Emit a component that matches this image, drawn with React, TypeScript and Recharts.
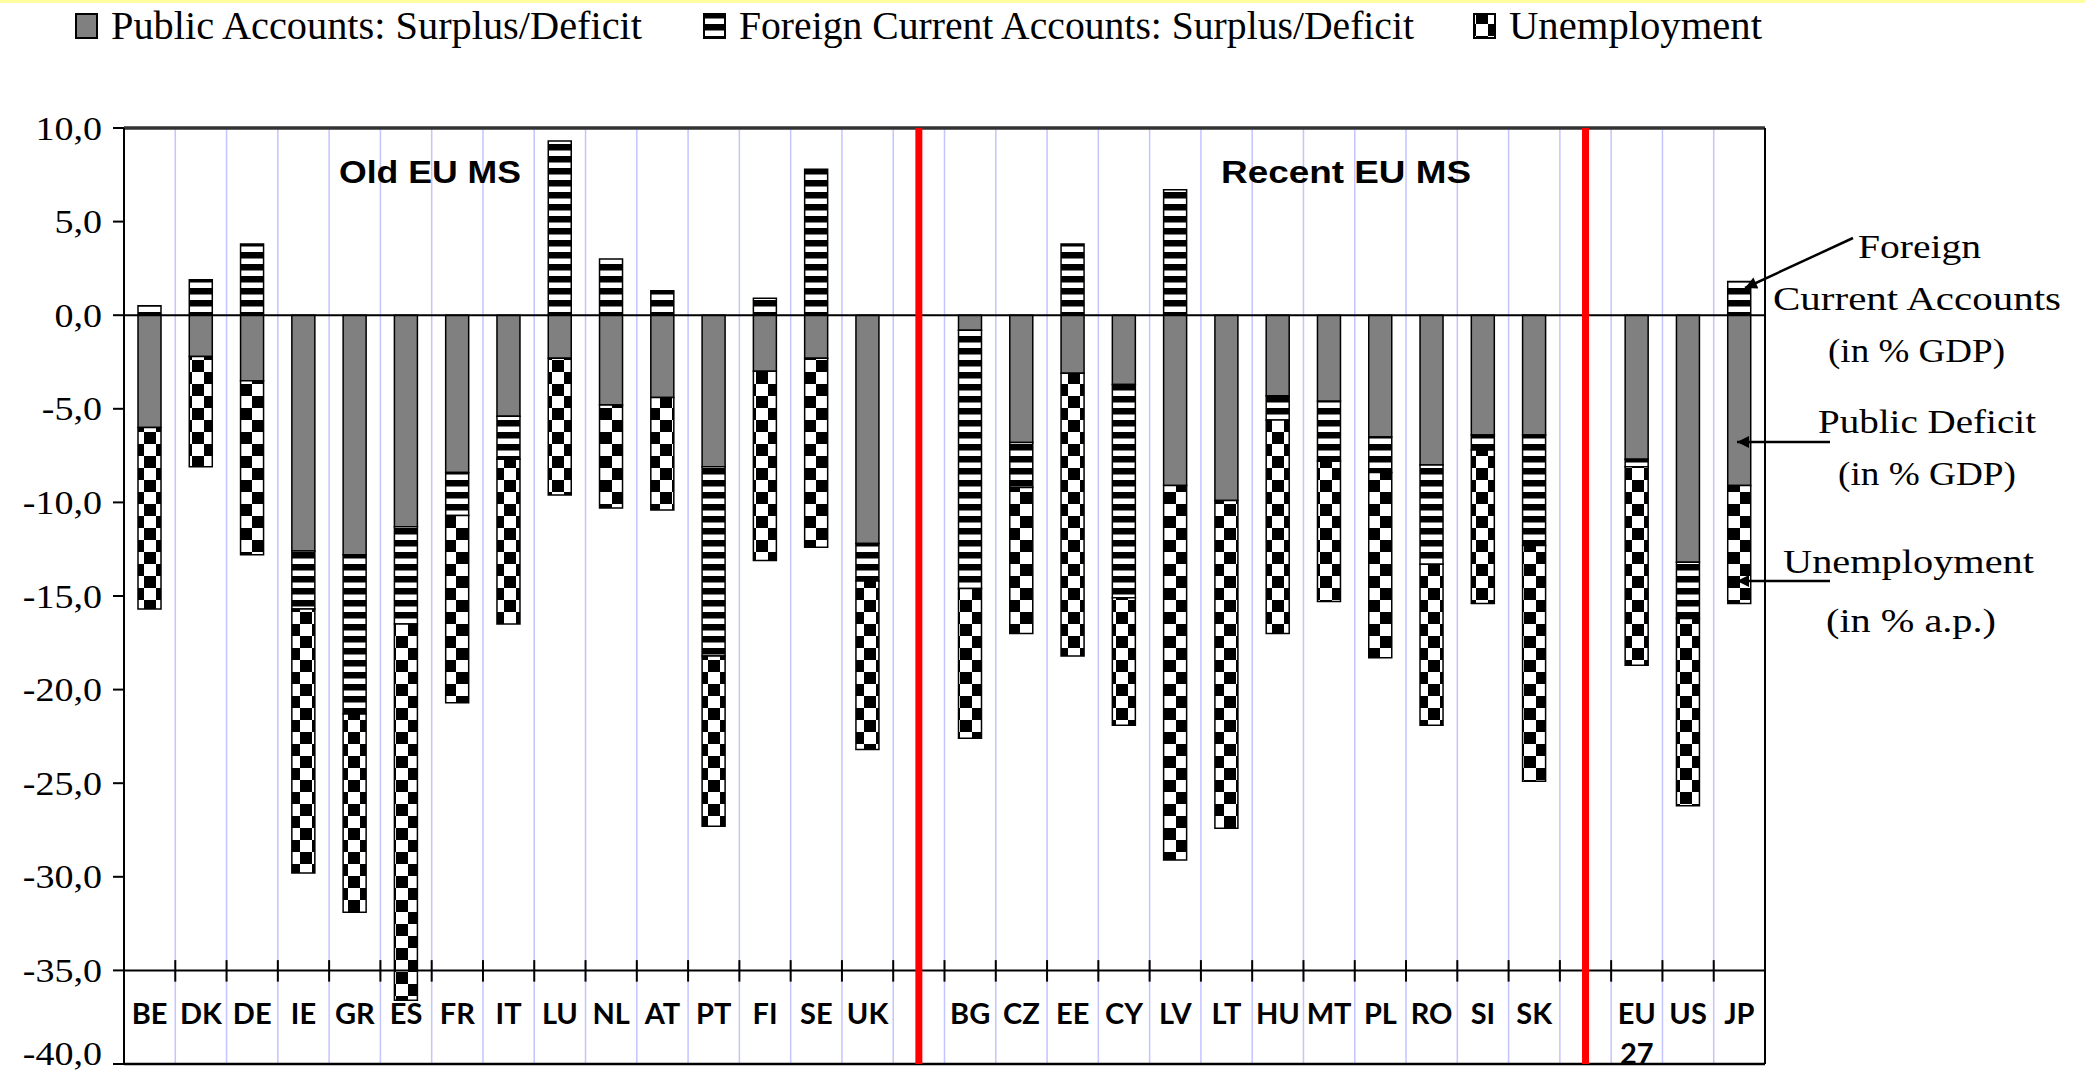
import React from 'react';
import { BarChart, Bar, XAxis, YAxis, ReferenceLine, Legend } from 'recharts';

// ---------- data ----------
const categories = [
  'BE', 'DK', 'DE', 'IE', 'GR', 'ES', 'FR', 'IT', 'LU', 'NL', 'AT', 'PT', 'FI', 'SE', 'UK',
  'gap1',
  'BG', 'CZ', 'EE', 'CY', 'LV', 'LT', 'HU', 'MT', 'PL', 'RO', 'SI', 'SK',
  'gap2',
  'EU 27', 'US', 'JP',
];

// Public accounts surplus/deficit, % GDP
const publicBalance: (number | null)[] = [
  -6.0, -2.2, -3.5, -12.6, -12.8, -11.3, -8.4, -5.4, -2.3, -4.8, -4.4, -8.1, -3.0, -2.3, -12.2,
  null,
  -0.8, -6.8, -3.1, -3.7, -9.1, -9.9, -4.3, -4.6, -6.5, -8.0, -6.4, -6.4,
  null,
  -7.7, -13.2, -9.1,
];

// Foreign current accounts surplus/deficit, % GDP
const currentAccount: (number | null)[] = [
  0.5, 1.9, 3.8, -3.1, -8.5, -5.2, -2.3, -2.3, 9.3, 3.0, 1.3, -10.1, 0.9, 7.8, -2.0,
  null,
  -13.8, -2.4, 3.8, -11.4, 6.7, 0, -1.3, -3.2, -1.9, -5.3, -0.8, -5.9,
  null,
  -0.4, -3.0, 1.8,
];

// Unemployment, % active population (drawn downwards)
const unemployment: (number | null)[] = [
  9.7, 5.9, 9.3, 14.1, 10.6, 20.1, 10.0, 8.8, 7.3, 5.5, 6.0, 9.1, 10.1, 10.1, 9.0,
  null,
  8.0, 7.8, 15.1, 6.8, 20.0, 17.5, 11.4, 7.5, 9.9, 8.6, 8.2, 12.6,
  null,
  10.6, 10.0, 6.3,
];

const yTicks = [10, 5, 0, -5, -10, -15, -20, -25, -30, -35, -40];
const seriesNames = [
  'Public Accounts: Surplus/Deficit',
  'Foreign Current Accounts: Surplus/Deficit',
  'Unemployment',
];
const groupLabels = ['Old EU MS', 'Recent EU MS'];
const axisCrossValue = -35;

// ---------- table built from arrays ----------
const tableData = categories.map((name, i) => ({
  name,
  pub: publicBalance[i] ?? 0,
  ca: currentAccount[i] ?? 0,
  unemp: unemployment[i] == null ? 0 : -(unemployment[i] as number),
}));
const boundaryCats = categories.slice(1);
const gapCats = categories.filter((c) => c.startsWith('gap'));
const lastCat = categories[categories.length - 1];

const SERIF = "'Liberation Serif', 'Times New Roman', serif";
const SANS = "'Liberation Sans', Arial, sans-serif";
const LABEL_FONT = "Lato, 'Open Sans', sans-serif";

function YTick(props: any) {
  const { x, y, payload } = props;
  const label = Number(payload.value).toFixed(1).replace('.', ',');
  // keep the lowest label inside the picture
  const yy = Math.min(y, 1072 - 19);
  return (
    <text
      transform={`translate(${x - 9},${yy}) scale(1.12,1)`}
      textAnchor="end"
      dy="0.34em"
      fontFamily={SERIF}
      fontSize={34}
      fill="#000"
    >
      {label}
    </text>
  );
}

function XTick(props: any) {
  const { x, y, payload } = props;
  const v = String(payload.value);
  if (v.startsWith('gap')) return <g />;
  const parts = v.split(' ');
  return (
    <text x={x} y={y - 40} textAnchor="middle" fontFamily={LABEL_FONT} fontWeight={700} fontSize={29} fill="#000">
      {parts.map((p, i) => (
        <tspan key={i} x={x} dy={i === 0 ? 0 : 40}>
          {p}
        </tspan>
      ))}
    </text>
  );
}

function LegendContent(props: any) {
  const payload = props.payload || [];
  const xs = [76, 704, 1474];
  const widths = [531, 675, 253];
  return (
    <svg width={2085} height={60} style={{ display: 'block' }}>
      {seriesNames.map((name, i) => {
        const e = payload.find((p: any) => p.value === name);
        if (!e) return null;
        return (
          <g key={name}>
            <rect x={xs[i]} y={14} width={21} height={24} fill={e.color} stroke="#000" strokeWidth={2} />
            <text
              x={xs[i] + 35}
              y={39}
              fontFamily={SERIF}
              fontSize={39}
              fill="#000"
              textLength={widths[i]}
              lengthAdjust="spacingAndGlyphs"
            >
              {e.value}
            </text>
          </g>
        );
      })}
    </svg>
  );
}

function Overlay() {
  const t = (s: string, x: number, y: number, len: number) => (
    <text x={x} y={y} fontFamily={SERIF} fontSize={34} fill="#000" textLength={len} lengthAdjust="spacingAndGlyphs">
      {s}
    </text>
  );
  return (
    <svg width={2085} height={1072} style={{ position: 'absolute', left: 0, top: 0, pointerEvents: 'none' }}>
      <defs>
        <marker id="arrowHead" viewBox="0 0 10 10" refX="10" refY="5" markerWidth="18" markerHeight="12" markerUnits="userSpaceOnUse" orient="auto">
          <path d="M0,0 L10,5 L0,10 z" fill="#000" />
        </marker>
      </defs>
      <text x={339} y={183} fontFamily={SANS} fontWeight={700} fontSize={32} fill="#000" textLength={182} lengthAdjust="spacingAndGlyphs">
        {groupLabels[0]}
      </text>
      <text x={1221} y={183} fontFamily={SANS} fontWeight={700} fontSize={32} fill="#000" textLength={250} lengthAdjust="spacingAndGlyphs">
        {groupLabels[1]}
      </text>
      {t('Foreign', 1858, 258, 123)}
      {t('Current Accounts', 1773, 310, 288)}
      {t('(in % GDP)', 1828, 362, 177)}
      {t('Public Deficit', 1818, 433, 218)}
      {t('(in % GDP)', 1838, 485, 178)}
      {t('Unemployment', 1783, 573, 251)}
      {t('(in % a.p.)', 1826, 632, 170)}
      <line x1={1853} y1={238} x2={1745} y2={288} stroke="#000" strokeWidth={2.5} markerEnd="url(#arrowHead)" />
      <line x1={1830} y1={442} x2={1737} y2={442} stroke="#000" strokeWidth={2.5} markerEnd="url(#arrowHead)" />
      <line x1={1830} y1={581} x2={1737} y2={581} stroke="#000" strokeWidth={2.5} markerEnd="url(#arrowHead)" />
    </svg>
  );
}

export default function App() {
  return (
    <div style={{ position: 'absolute', left: 0, top: 0, width: 2085, height: 1072, background: '#fff', overflow: 'hidden' }}>
      <div style={{ position: 'absolute', left: 0, top: 0, width: 2085, height: 3, background: '#FFFFA0' }} />
      <svg width={0} height={0} style={{ position: 'absolute' }}>
        <defs>
          <pattern id="stripes" patternUnits="userSpaceOnUse" width={12} height={12}>
            <rect width={12} height={12} fill="#fff" />
            <rect width={12} height={6.5} fill="#000" />
          </pattern>
          <pattern id="checker" patternUnits="userSpaceOnUse" width={24} height={24}>
            <rect width={24} height={24} fill="#fff" />
            <rect width={12} height={12} fill="#000" />
            <rect x={12} y={12} width={12} height={12} fill="#000" />
          </pattern>
        </defs>
      </svg>
      <BarChart
        width={2085}
        height={1072}
        data={tableData}
        margin={{ top: 128, right: 320, bottom: 0, left: 0 }}
        stackOffset="sign"
        barSize={23}
      >
        <XAxis
          dataKey="name"
          height={8}
          tickSize={0}
          tickMargin={0}
          axisLine={false}
          tickLine={false}
          interval={0}
          tick={<XTick />}
        />
        <YAxis
          type="number"
          width={124}
          domain={[-40, 10]}
          ticks={yTicks}
          interval={0}
          allowDataOverflow
          tickSize={11}
          axisLine={{ stroke: '#000', strokeWidth: 2 }}
          tickLine={{ stroke: '#000', strokeWidth: 2 }}
          tick={<YTick />}
        />
        <Legend
          layout="horizontal"
          verticalAlign="middle"
          align="center"
          wrapperStyle={{ position: 'absolute', top: 0, left: 0, width: 2085, height: 60 }}
          content={<LegendContent />}
        />
        {boundaryCats.map((c) => (
          <ReferenceLine key={'g' + c} x={c} position="start" stroke="#C4C4FF" strokeWidth={1.5} />
        ))}
        <Bar dataKey="pub" stackId="s" name={seriesNames[0]} fill="#808080" stroke="#000" strokeWidth={1.5} isAnimationActive={false} />
        <Bar dataKey="ca" stackId="s" name={seriesNames[1]} fill="url(#stripes)" stroke="#000" strokeWidth={1.5} isAnimationActive={false} />
        <Bar dataKey="unemp" stackId="s" name={seriesNames[2]} fill="url(#checker)" stroke="#000" strokeWidth={1.5} isAnimationActive={false} />
        <ReferenceLine y={0} stroke="#000" strokeWidth={2} />
        <ReferenceLine y={axisCrossValue} stroke="#000" strokeWidth={2} />
        <ReferenceLine y={10} stroke="#333" strokeWidth={3.5} />
        <ReferenceLine y={-40} stroke="#000" strokeWidth={2.5} />
        <ReferenceLine x={lastCat} position="end" stroke="#000" strokeWidth={2} />
        {gapCats.map((g) => (
          <ReferenceLine key={'r' + g} x={g} position="middle" stroke="#FF0000" strokeWidth={7} />
        ))}
        {boundaryCats.map((c) => (
          <ReferenceLine
            key={'t' + c}
            position="start"
            segment={[
              { x: c, y: axisCrossValue + 0.55 },
              { x: c, y: axisCrossValue - 0.6 },
            ]}
            stroke="#000"
            strokeWidth={2}
          />
        ))}
      </BarChart>
      <Overlay />
    </div>
  );
}
